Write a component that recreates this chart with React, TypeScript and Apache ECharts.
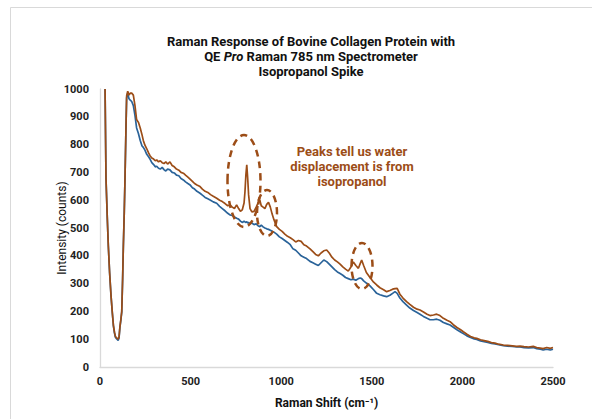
import React, { useEffect, useRef } from "react";
import * as echarts from "echarts";

const ramanShift = [
  28, 33, 40, 46, 53, 61, 68, 74, 80, 85, 90, 95, 100, 105, 110, 115, 120, 125, 129, 134, 138, 143, 147, 153, 160, 167, 175, 184, 193, 202, 212, 222, 232, 239, 248, 258, 268, 276, 286, 296, 305, 313, 323, 333, 343, 353, 363, 373, 386, 398, 410, 422, 435, 447, 460, 472, 485, 497, 510, 522, 535, 552, 565, 580, 595, 610, 625, 644, 660, 675, 690, 705, 717, 730, 742, 754, 765, 775, 785, 795, 800, 805, 810, 815, 820, 828, 838, 850, 862, 872, 882, 890, 900, 910, 920, 930, 940, 950, 960, 975, 990, 1005, 1020, 1035, 1050, 1065, 1080, 1095, 1110, 1125, 1140, 1159, 1175, 1190, 1205, 1220, 1235, 1251, 1265, 1280, 1295, 1310, 1325, 1340, 1355, 1370, 1385, 1398, 1412, 1426, 1436, 1444, 1455, 1470, 1490, 1510, 1527, 1545, 1565, 1582, 1600, 1615, 1628, 1640, 1655, 1672, 1692, 1710, 1730, 1750, 1766, 1785, 1805, 1821, 1840, 1858, 1876, 1895, 1915, 1932, 1950, 1970, 1990, 2005, 2025, 2045, 2065, 2079, 2100, 2120, 2140, 2160, 2180, 2200, 2226, 2250, 2275, 2300, 2318, 2340, 2365, 2391, 2410, 2430, 2446, 2465, 2485, 2500,
];

const isopropanolSpike = [
  1000, 680, 540, 435, 340, 255, 195, 150, 125, 110, 106, 103, 100, 108, 145, 170, 200, 320, 440, 560, 680, 850, 975, 992, 978, 985, 985, 978, 940, 890, 880, 860, 835, 815, 798, 785, 770, 760, 752, 748, 742, 745, 738, 742, 735, 732, 738, 730, 738, 725, 720, 712, 708, 700, 697, 690, 683, 676, 668, 660, 655, 649, 640, 632, 628, 620, 614, 607, 600, 595, 588, 580, 583, 575, 570, 583, 570, 560, 565, 590, 630, 690, 727, 680, 620, 570, 558, 560, 575, 590, 600, 580, 575, 570, 585, 592, 575, 550, 530, 505, 495, 488, 478, 470, 465, 458, 450, 455, 452, 440, 435, 425, 415, 405, 400, 410, 418, 421, 410, 395, 385, 378, 370, 360, 352, 345, 360, 378, 365, 355, 372, 385, 365, 340, 322, 305, 295, 285, 278, 271, 275, 280, 282, 283, 262, 248, 235, 225, 215, 208, 205, 198, 190, 185, 187, 190, 185, 175, 168, 163, 152, 142, 134, 127, 118, 110, 105, 103, 98, 95, 92, 88, 86, 82, 79, 78, 76, 74, 75, 73, 72, 74, 70, 68, 66, 70, 67, 70,
];

const baseline = [
  1000, 680, 540, 435, 340, 255, 195, 148, 122, 107, 103, 99, 96, 104, 143, 168, 197, 318, 438, 558, 678, 848, 968, 985, 965, 960, 955, 940, 905, 860, 840, 815, 795, 790, 780, 765, 756, 748, 735, 728, 720, 722, 715, 712, 718, 710, 705, 712, 709, 700, 698, 690, 688, 678, 673, 666, 660, 655, 645, 640, 632, 625, 618, 610, 605, 600, 594, 589, 578, 570, 562, 553, 547, 545, 540, 535, 532, 525, 520, 524, 522, 520, 523, 518, 520, 515, 518, 512, 515, 508, 505, 510, 504, 500, 497, 495, 492, 488, 485, 478, 468, 462, 455, 448, 440, 425, 420, 410, 400, 395, 390, 380, 375, 370, 365, 375, 385, 379, 370, 360, 350, 342, 336, 330, 322, 318, 314, 316, 312, 318, 320, 318, 310, 302, 292, 278, 265, 260, 256, 253, 258, 265, 271, 265, 248, 235, 223, 212, 203, 196, 190, 182, 175, 170, 170, 172, 168, 160, 155, 151, 143, 134, 126, 120, 112, 106, 101, 99, 94, 91, 88, 85, 83, 80, 77, 75, 74, 72, 72, 70, 69, 70, 66, 64, 61, 64, 61, 64,
];

const xTicks = [0, 500, 1000, 1500, 2000, 2500];
const yTicks = [0, 100, 200, 300, 400, 500, 600, 700, 800, 900, 1000];

const titleLines = [
  "Raman Response of Bovine Collagen Protein with",
  "QE {i|Pro} Raman 785 nm Spectrometer",
  "Isopropanol Spike",
];
const annotationLines = ["Peaks tell us water", "displacement is from", "isopropanol"];

const BLUE = "#2a6399";
const BROWN = "#9c4d17";
const FONT = "Roboto";

export default function App() {
  const ref = useRef<HTMLDivElement>(null);
  useEffect(() => {
    if (!ref.current) return;
    const chart = echarts.init(ref.current, undefined, { renderer: "svg" });
    const blueData = ramanShift.map((x, i) => [x, baseline[i]]);
    const brownData = ramanShift.map((x, i) => [x, isopropanolSpike[i]]);
    const ellipse = (cx: number, cy: number, rx: number, ry: number) => ({
      type: "ellipse",
      shape: { cx, cy, rx, ry },
      style: { fill: "none", stroke: BROWN, lineWidth: 2.5, lineDash: [7, 5] },
      z: 10,
    });
    chart.setOption({
      animation: false,
      backgroundColor: "#ffffff",
      title: {
        text: titleLines.join("\n"),
        left: 306,
        top: 29,
        textAlign: "center",
        textStyle: {
          fontFamily: FONT,
          fontSize: 13,
          fontWeight: "bold",
          color: "#111111",
          lineHeight: 15,
          rich: {
            i: { fontFamily: FONT, fontSize: 13, fontWeight: "bold", fontStyle: "italic", color: "#111111", lineHeight: 15 },
          },
        },
      },
      grid: { left: 100, right: 39, top: 89, bottom: 52, containLabel: false },
      xAxis: {
        type: "value",
        min: xTicks[0],
        max: xTicks[xTicks.length - 1],
        interval: 500,
        name: "Raman Shift (cm⁻¹)",
        nameLocation: "middle",
        nameGap: 30,
        nameMoveOverlap: false,
        nameTextStyle: { fontFamily: FONT, fontSize: 12, fontWeight: "bold", color: "#111111" },
        axisLine: { show: true, lineStyle: { color: "#d9d9d9", width: 1.3 } },
        axisTick: { show: false },
        splitLine: { show: false },
        axisLabel: {
          fontFamily: FONT, fontSize: 11, fontWeight: "bold", color: "#222222", margin: 9,
          formatter: (v: number) => String(v),
        },
      },
      yAxis: {
        type: "value",
        min: yTicks[0],
        max: yTicks[yTicks.length - 1],
        interval: 100,
        name: "Intensity (counts)",
        nameLocation: "middle",
        nameGap: 32,
        nameMoveOverlap: false,
        nameTextStyle: { fontFamily: FONT, fontSize: 12, color: "#111111" },
        axisLine: { show: true, lineStyle: { color: "#d9d9d9", width: 1.3 } },
        axisTick: { show: false },
        splitLine: { show: false },
        axisLabel: {
          fontFamily: FONT, fontSize: 11, fontWeight: "bold", color: "#222222", margin: 11,
          formatter: (v: number) => String(v),
        },
      },
      series: [
        {
          name: "Baseline",
          type: "line",
          data: blueData,
          showSymbol: false,
          lineStyle: { color: BLUE, width: 1.7 },
          clip: true,
        },
        {
          name: "Isopropanol Spike",
          type: "line",
          data: brownData,
          showSymbol: false,
          lineStyle: { color: BROWN, width: 1.7 },
          clip: true,
        },
      ],
      graphic: [
        {
          type: "rect",
          shape: { x: 10.5, y: 7.5, width: 620, height: 440 },
          style: { fill: "none", stroke: "#d9d9d9", lineWidth: 1 },
          silent: true,
        },
        ellipse(244, 181, 16.5, 46),
        ellipse(267, 213, 10, 23),
        ellipse(362, 266, 10.5, 23),
        {
          type: "text",
          x: 352,
          y: 144,
          style: {
            text: annotationLines.join("\n"),
            fill: BROWN,
            fontFamily: FONT,
            fontSize: 13,
            fontWeight: "bold",
            lineHeight: 15,
            align: "center",
            verticalAlign: "top",
          },
          z: 10,
        },
      ],
    });
    return () => chart.dispose();
  }, []);
  return (
    <div
      ref={ref}
      style={{ position: "absolute", left: 0, top: 0, width: 592, height: 419 }}
    />
  );
}
